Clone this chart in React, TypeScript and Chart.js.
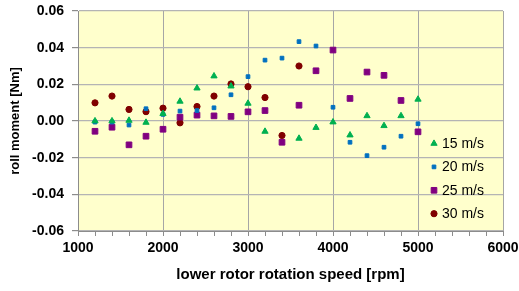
import React, { useEffect, useRef } from "react";
import { Chart, registerables } from "chart.js";

Chart.register(...registerables);

// rotor speeds [rpm]
const rpm = [1200, 1400, 1600, 1800, 2000, 2200, 2400, 2600, 2800, 3000, 3200, 3400, 3600, 3800, 4000, 4200, 4400, 4600, 4800, 5000];

const series15 = [0.0, 0.0, 0.0003, -0.0008, 0.004, 0.0107, 0.0179, 0.0245, 0.019, 0.0096, -0.0057, null, -0.0095, -0.0036, -0.0006, -0.0077, 0.0028, -0.0026, 0.0028, 0.0118];
const series20 = [-0.0006, -0.0006, -0.0022, 0.0067, 0.0036, 0.0054, 0.0057, 0.0072, 0.0143, 0.0242, 0.0332, 0.0343, 0.0433, 0.0409, 0.0075, -0.0116, -0.0189, -0.0143, -0.0083, -0.0015];
const series25 = [-0.0056, -0.0034, -0.013, -0.0083, -0.0045, 0.0021, 0.0032, 0.0028, 0.0025, 0.005, 0.0057, -0.0116, 0.0086, 0.0274, 0.0387, 0.0123, 0.0267, 0.0249, 0.0112, -0.0059];
const series30 = [0.0099, 0.0136, 0.0063, 0.0051, 0.007, -0.001, 0.0079, 0.0136, 0.0202, 0.0187, 0.0128, -0.0079, 0.03, null, null, null, null, null, null, null];

const seriesLabels = ["15 m/s", "20 m/s", "25 m/s", "30 m/s"];
const xTickValues = [1000, 2000, 3000, 4000, 5000, 6000];
const yTickValues = [-0.06, -0.04, -0.02, 0.0, 0.02, 0.04, 0.06];

const FONT = "'Liberation Sans', Arial, sans-serif";

const styles = [
  { color: "#00B050", pointStyle: "triangle", radius: 3.6 },
  { color: "#0070C0", pointStyle: "rect", radius: 2.6 },
  { color: "#800080", pointStyle: "rect", radius: 4.0 },
  { color: "#800000", pointStyle: "circle", radius: 3.1 },
];

function toPoints(ys: (number | null)[]) {
  const pts: { x: number; y: number }[] = [];
  ys.forEach((y, i) => {
    if (y !== null) pts.push({ x: rpm[i], y });
  });
  return pts;
}

function drawMarker(ctx: CanvasRenderingContext2D, style: string, r: number, x: number, y: number) {
  ctx.beginPath();
  if (style === "triangle") {
    let rad = 0;
    ctx.moveTo(x + Math.sin(rad) * r, y - Math.cos(rad) * r);
    rad += (2 * Math.PI) / 3;
    ctx.lineTo(x + Math.sin(rad) * r, y - Math.cos(rad) * r);
    rad += (2 * Math.PI) / 3;
    ctx.lineTo(x + Math.sin(rad) * r, y - Math.cos(rad) * r);
    ctx.closePath();
  } else if (style === "rect") {
    const s = r * Math.SQRT1_2;
    ctx.rect(x - s, y - s, 2 * s, 2 * s);
  } else {
    ctx.arc(x, y, r, 0, Math.PI * 2);
  }
  ctx.fill();
  ctx.stroke();
}

const plotBackground = {
  id: "plotBackground",
  beforeDraw(chart: any) {
    const { ctx, chartArea } = chart;
    ctx.save();
    ctx.fillStyle = "#FFFFCC";
    ctx.fillRect(chartArea.left, chartArea.top, chartArea.right - chartArea.left, chartArea.bottom - chartArea.top);
    ctx.restore();
  },
};

const insideLegend = {
  id: "insideLegend",
  afterDraw(chart: any) {
    const { ctx, chartArea } = chart;
    ctx.save();
    ctx.font = `14px ${FONT}`;
    ctx.textBaseline = "middle";
    ctx.textAlign = "left";
    seriesLabels.forEach((label, i) => {
      const st = styles[i];
      const y = chartArea.top + 132.5 + i * 23.4;
      const mx = chartArea.right - 69;
      ctx.fillStyle = st.color;
      ctx.strokeStyle = st.color;
      ctx.lineWidth = 1;
      drawMarker(ctx, st.pointStyle, st.radius, mx, y);
      ctx.fillStyle = "#000000";
      ctx.fillText(label, chartArea.right - 61, y + 0.5);
    });
    ctx.restore();
  },
};

export default function App() {
  const canvasRef = useRef<HTMLCanvasElement | null>(null);

  useEffect(() => {
    if (!canvasRef.current) return;
    const allSeries = [series15, series20, series25, series30];
    const chart = new Chart(canvasRef.current, {
      type: "scatter",
      data: {
        datasets: allSeries.map((s, i) => ({
          label: seriesLabels[i],
          data: toPoints(s),
          pointStyle: styles[i].pointStyle as any,
          pointRadius: styles[i].radius,
          pointBackgroundColor: styles[i].color,
          pointBorderColor: styles[i].color,
          pointBorderWidth: 1,
          backgroundColor: styles[i].color,
          borderColor: styles[i].color,
        })),
      },
      options: {
        animation: false,
        responsive: true,
        maintainAspectRatio: false,
        layout: { padding: { top: 11, right: 16, left: 0, bottom: 0 } },
        plugins: {
          legend: { display: false },
          tooltip: { enabled: false },
        },
        scales: {
          x: {
            type: "linear",
            min: 1000,
            max: 6000,
            afterFit: (scale: any) => {
              scale.height = 60;
              scale.paddingLeft = 0;
              scale.paddingRight = 0;
            },
            afterBuildTicks: (scale: any) => {
              const t: { value: number }[] = [];
              for (let v = 1000; v <= 6000; v += 200) t.push({ value: v });
              scale.ticks = t;
            },
            ticks: {
              autoSkip: false,
              maxRotation: 0,
              padding: 4,
              color: "#000000",
              font: { family: FONT, size: 14, weight: "bold" },
              callback: (v: any) => (xTickValues.includes(Number(v)) ? String(v) : ""),
            },
            grid: {
              color: (c: any) => (c.tick && xTickValues.includes(c.tick.value) ? "#A6A6A6" : "rgba(0,0,0,0)"),
              tickColor: "#8C8C8C",
              tickLength: 5,
              lineWidth: 1,
            },
            border: { color: "#8C8C8C", width: 1 },
            title: {
              display: true,
              text: "lower rotor rotation speed [rpm]",
              color: "#000000",
              font: { family: FONT, size: 15, weight: "bold" },
              padding: { top: 0, bottom: 7 },
            },
          },
          y: {
            type: "linear",
            min: -0.06,
            max: 0.06,
            afterFit: (scale: any) => {
              scale.width = 78;
              scale.paddingTop = 0;
              scale.paddingBottom = 0;
            },
            afterBuildTicks: (scale: any) => {
              scale.ticks = yTickValues.map((v) => ({ value: v }));
            },
            ticks: {
              padding: 8,
              color: "#000000",
              font: { family: FONT, size: 14, weight: "bold" },
              callback: (v: any) => (Math.abs(Number(v)) < 1e-9 ? "0.00" : Number(v).toFixed(2)),
            },
            grid: {
              color: "#B4B4B4",
              tickColor: "#8C8C8C",
              tickLength: 6,
              lineWidth: 1.2,
            },
            border: { color: "#8C8C8C", width: 1 },
            title: {
              display: true,
              text: "roll moment [Nm]",
              color: "#000000",
              font: { family: FONT, size: 13, weight: "bold" },
              padding: { top: 8, bottom: 0 },
            },
          },
        },
      },
      plugins: [plotBackground, insideLegend],
    });
    return () => chart.destroy();
  }, []);

  return (
    <div style={{ position: "fixed", left: 0, top: 0, width: 519, height: 291, background: "#ffffff" }}>
      <canvas ref={canvasRef} />
    </div>
  );
}
